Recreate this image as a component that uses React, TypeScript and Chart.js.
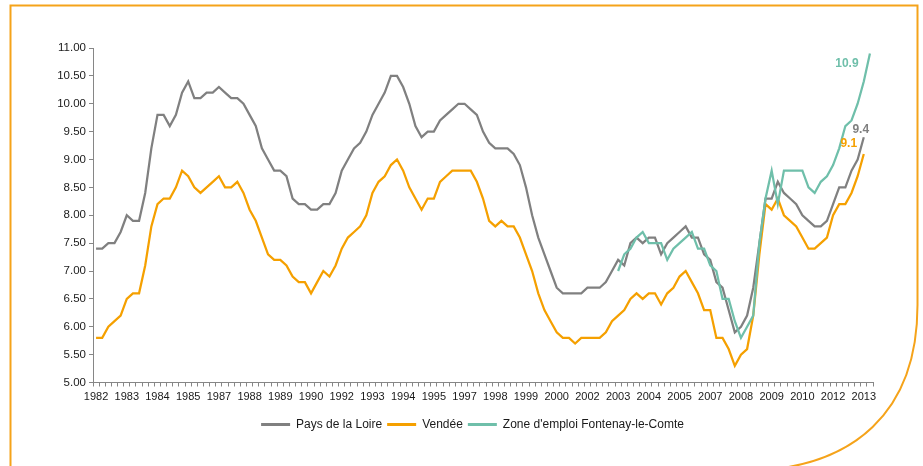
import { useEffect, useRef } from 'react';
import { Chart, registerables } from 'chart.js';

Chart.register(...registerables);

// ---- Categories (quarters, 1982 T1 .. 2013 T3) ----
const firstYear = 1982;
const quarterCount = 127;
const categories: string[] = [];
for (let i = 0; i < quarterCount; i++) {
  categories.push(`${firstYear + Math.floor(i / 4)} T${(i % 4) + 1}`);
}

// ---- Tick labels (one every 5 quarters) ----
const tickEvery = 5;
const xTickLabels = [
  '1982', '1983', '1984', '1985', '1987', '1988', '1989', '1990', '1992',
  '1993', '1994', '1995', '1997', '1998', '1999', '2000', '2002', '2003',
  '2004', '2005', '2007', '2008', '2009', '2010', '2012', '2013',
];

// ---- Series ----
const paysDeLaLoire = [
  7.4, 7.4, 7.5, 7.5, 7.7, 8.0, 7.9, 7.9, 8.4, 9.2,
  9.8, 9.8, 9.6, 9.8, 10.2, 10.4, 10.1, 10.1, 10.2, 10.2,
  10.3, 10.2, 10.1, 10.1, 10.0, 9.8, 9.6, 9.2, 9.0, 8.8,
  8.8, 8.7, 8.3, 8.2, 8.2, 8.1, 8.1, 8.2, 8.2, 8.4,
  8.8, 9.0, 9.2, 9.3, 9.5, 9.8, 10.0, 10.2, 10.5, 10.5,
  10.3, 10.0, 9.6, 9.4, 9.5, 9.5, 9.7, 9.8, 9.9, 10.0,
  10.0, 9.9, 9.8, 9.5, 9.3, 9.2, 9.2, 9.2, 9.1, 8.9,
  8.5, 8.0, 7.6, 7.3, 7.0, 6.7, 6.6, 6.6, 6.6, 6.6,
  6.7, 6.7, 6.7, 6.8, 7.0, 7.2, 7.1, 7.5, 7.6, 7.5,
  7.6, 7.6, 7.3, 7.5, 7.6, 7.7, 7.8, 7.6, 7.6, 7.3,
  7.2, 6.8, 6.7, 6.3, 5.9, 6.0, 6.2, 6.7, 7.5, 8.3,
  8.3, 8.6, 8.4, 8.3, 8.2, 8.0, 7.9, 7.8, 7.8, 7.9,
  8.2, 8.5, 8.5, 8.8, 9.0, 9.4,
];

const vendee = [
  5.8, 5.8, 6.0, 6.1, 6.2, 6.5, 6.6, 6.6, 7.1, 7.8,
  8.2, 8.3, 8.3, 8.5, 8.8, 8.7, 8.5, 8.4, 8.5, 8.6,
  8.7, 8.5, 8.5, 8.6, 8.4, 8.1, 7.9, 7.6, 7.3, 7.2,
  7.2, 7.1, 6.9, 6.8, 6.8, 6.6, 6.8, 7.0, 6.9, 7.1,
  7.4, 7.6, 7.7, 7.8, 8.0, 8.4, 8.6, 8.7, 8.9, 9.0,
  8.8, 8.5, 8.3, 8.1, 8.3, 8.3, 8.6, 8.7, 8.8, 8.8,
  8.8, 8.8, 8.6, 8.3, 7.9, 7.8, 7.9, 7.8, 7.8, 7.6,
  7.3, 7.0, 6.6, 6.3, 6.1, 5.9, 5.8, 5.8, 5.7, 5.8,
  5.8, 5.8, 5.8, 5.9, 6.1, 6.2, 6.3, 6.5, 6.6, 6.5,
  6.6, 6.6, 6.4, 6.6, 6.7, 6.9, 7.0, 6.8, 6.6, 6.3,
  6.3, 5.8, 5.8, 5.6, 5.3, 5.5, 5.6, 6.2, 7.3, 8.2,
  8.1, 8.3, 8.0, 7.9, 7.8, 7.6, 7.4, 7.4, 7.5, 7.6,
  8.0, 8.2, 8.2, 8.4, 8.7, 9.1,
];

// Zone d'emploi series starts at 2003 T2 (category index 85)
const zoneStartIndex = 85;
const zoneFontenay = [
  7.0, 7.3, 7.4, 7.6, 7.7, 7.5, 7.5, 7.5, 7.2, 7.4,
  7.5, 7.6, 7.7, 7.4, 7.4, 7.1, 7.0, 6.5, 6.5, 6.1,
  5.8, 6.0, 6.2, 7.5, 8.3, 8.8, 8.2, 8.8, 8.8, 8.8,
  8.8, 8.5, 8.4, 8.6, 8.7, 8.9, 9.2, 9.6, 9.7, 10.0,
  10.4, 10.9,
];

const seriesNames = ['Pays de la Loire', 'Vendée', "Zone d'emploi Fontenay-le-Comte"];

// ---- Styles ----
const colors = ['#808080', '#F5A000', '#6FBFAA'];
const labelOffsets = [
  { dx: -3, dy: -8 },
  { dx: -15, dy: -10 },
  { dx: -23, dy: 10 },
];
const legendCenterX = 472.5;
const axisColor = '#868686';
const textColor = '#1a1a1a';
const sansFamily = '"Liberation Sans", Arial, sans-serif';
const narrowFamily = '"Liberation Sans Narrow", "Arial Narrow", "Liberation Sans", Arial, sans-serif';

const lastValueLabels = {
  id: 'lastValueLabels',
  afterDatasetsDraw(chart: any) {
    const ctx = chart.ctx;
    chart.data.datasets.forEach((ds: any, di: number) => {
      const meta = chart.getDatasetMeta(di);
      let last = -1;
      ds.data.forEach((v: any, i: number) => {
        if (v !== null && v !== undefined) last = i;
      });
      if (last < 0) return;
      const pt = meta.data[last];
      const off = labelOffsets[di];
      ctx.save();
      ctx.font = `bold 12px ${sansFamily}`;
      ctx.fillStyle = ds.borderColor;
      ctx.textAlign = 'center';
      ctx.textBaseline = 'middle';
      ctx.fillText(Number(ds.data[last]).toFixed(1), pt.x + off.dx, pt.y + off.dy);
      ctx.restore();
    });
  },
};

const legendShift = {
  id: 'legendShift',
  afterLayout(chart: any) {
    const lg = chart.legend;
    if (!lg) return;
    const dx = legendCenterX - (lg.left + lg.right) / 2;
    lg.left += dx;
    lg.right += dx;
  },
};

export default function App() {
  const canvasRef = useRef<HTMLCanvasElement | null>(null);

  useEffect(() => {
    if (!canvasRef.current) return;
    const zoneData = categories.map((_, i) =>
      i >= zoneStartIndex ? zoneFontenay[i - zoneStartIndex] ?? null : null,
    );
    const padSeries = (arr: number[]) => categories.map((_, i) => (i < arr.length ? arr[i] : null));

    const chart = new Chart(canvasRef.current, {
      type: 'line',
      data: {
        labels: categories,
        datasets: [
          {
            label: seriesNames[0],
            data: padSeries(paysDeLaLoire),
            borderColor: colors[0],
            backgroundColor: colors[0],
            borderWidth: 2.25,
            pointRadius: 0,
            tension: 0,
            order: 1,
          },
          {
            label: seriesNames[1],
            data: padSeries(vendee),
            borderColor: colors[1],
            backgroundColor: colors[1],
            borderWidth: 2.25,
            pointRadius: 0,
            tension: 0,
            order: 2,
          },
          {
            label: seriesNames[2],
            data: zoneData,
            borderColor: colors[2],
            backgroundColor: colors[2],
            borderWidth: 2.25,
            pointRadius: 0,
            tension: 0,
            order: 0,
          },
        ],
      },
      options: {
        animation: false,
        responsive: false,
        devicePixelRatio: 1,
        layout: { padding: { left: 8, right: 50, top: 48, bottom: 25.5 } },
        plugins: {
          tooltip: { enabled: false },
          legend: {
            position: 'bottom',
            labels: {
              boxWidth: 29,
              boxHeight: 3,
              padding: 5,
              color: textColor,
              font: { family: sansFamily, size: 12 },
              sort: (a: any, b: any) => a.datasetIndex - b.datasetIndex,
              generateLabels: (chart: any) =>
                chart.data.datasets.map((ds: any, i: number) => ({
                  text: ds.label,
                  fillStyle: ds.borderColor,
                  strokeStyle: ds.borderColor,
                  lineWidth: 0,
                  hidden: false,
                  datasetIndex: i,
                  fontColor: textColor,
                })),
            },
          },
        },
        scales: {
          x: {
            type: 'category',
            offset: true,
            afterFit: (axis: any) => {
              axis.height = 31;
            },
            grid: {
              display: true,
              drawOnChartArea: false,
              drawTicks: true,
              tickLength: 4,
              color: axisColor,
              offset: true,
            },
            border: { display: true, color: axisColor, width: 1 },
            ticks: {
              autoSkip: false,
              maxRotation: 0,
              minRotation: 0,
              padding: 4,
              color: textColor,
              font: { family: narrowFamily, size: 11 },
              callback: (_v: any, index: number) =>
                index % tickEvery === 0 ? xTickLabels[index / tickEvery] ?? '' : '',
            },
          },
          y: {
            min: 5,
            max: 11,
            afterFit: (axis: any) => {
              axis.width = 85;
            },
            grid: {
              display: true,
              drawOnChartArea: false,
              drawTicks: true,
              tickLength: 4,
              color: axisColor,
            },
            border: { display: true, color: axisColor, width: 1 },
            ticks: {
              stepSize: 0.5,
              padding: 3,
              color: textColor,
              font: { family: sansFamily, size: 11.5 },
              callback: (v: any) => Number(v).toFixed(2),
            },
          },
        },
      },
      plugins: [lastValueLabels, legendShift],
    } as any);

    return () => chart.destroy();
  }, []);

  return (
    <div
      style={{
        position: 'fixed',
        left: 0,
        top: 0,
        width: 923,
        height: 466,
        background: '#ffffff',
        overflow: 'hidden',
      }}
    >
      <canvas ref={canvasRef} width={923} height={466} style={{ position: 'absolute', left: 0, top: 0, width: 923, height: 466 }} />
      <svg
        width={923}
        height={466}
        style={{ position: 'absolute', left: 0, top: 0, pointerEvents: 'none' }}
      >
        <path
          d="M 10.5 470 L 10.5 5.5 L 917.5 5.5 L 917.5 305 C 917.5 409 857 471 740 471"
          fill="none"
          stroke="#F5A31A"
          strokeWidth={2}
        />
      </svg>
    </div>
  );
}
